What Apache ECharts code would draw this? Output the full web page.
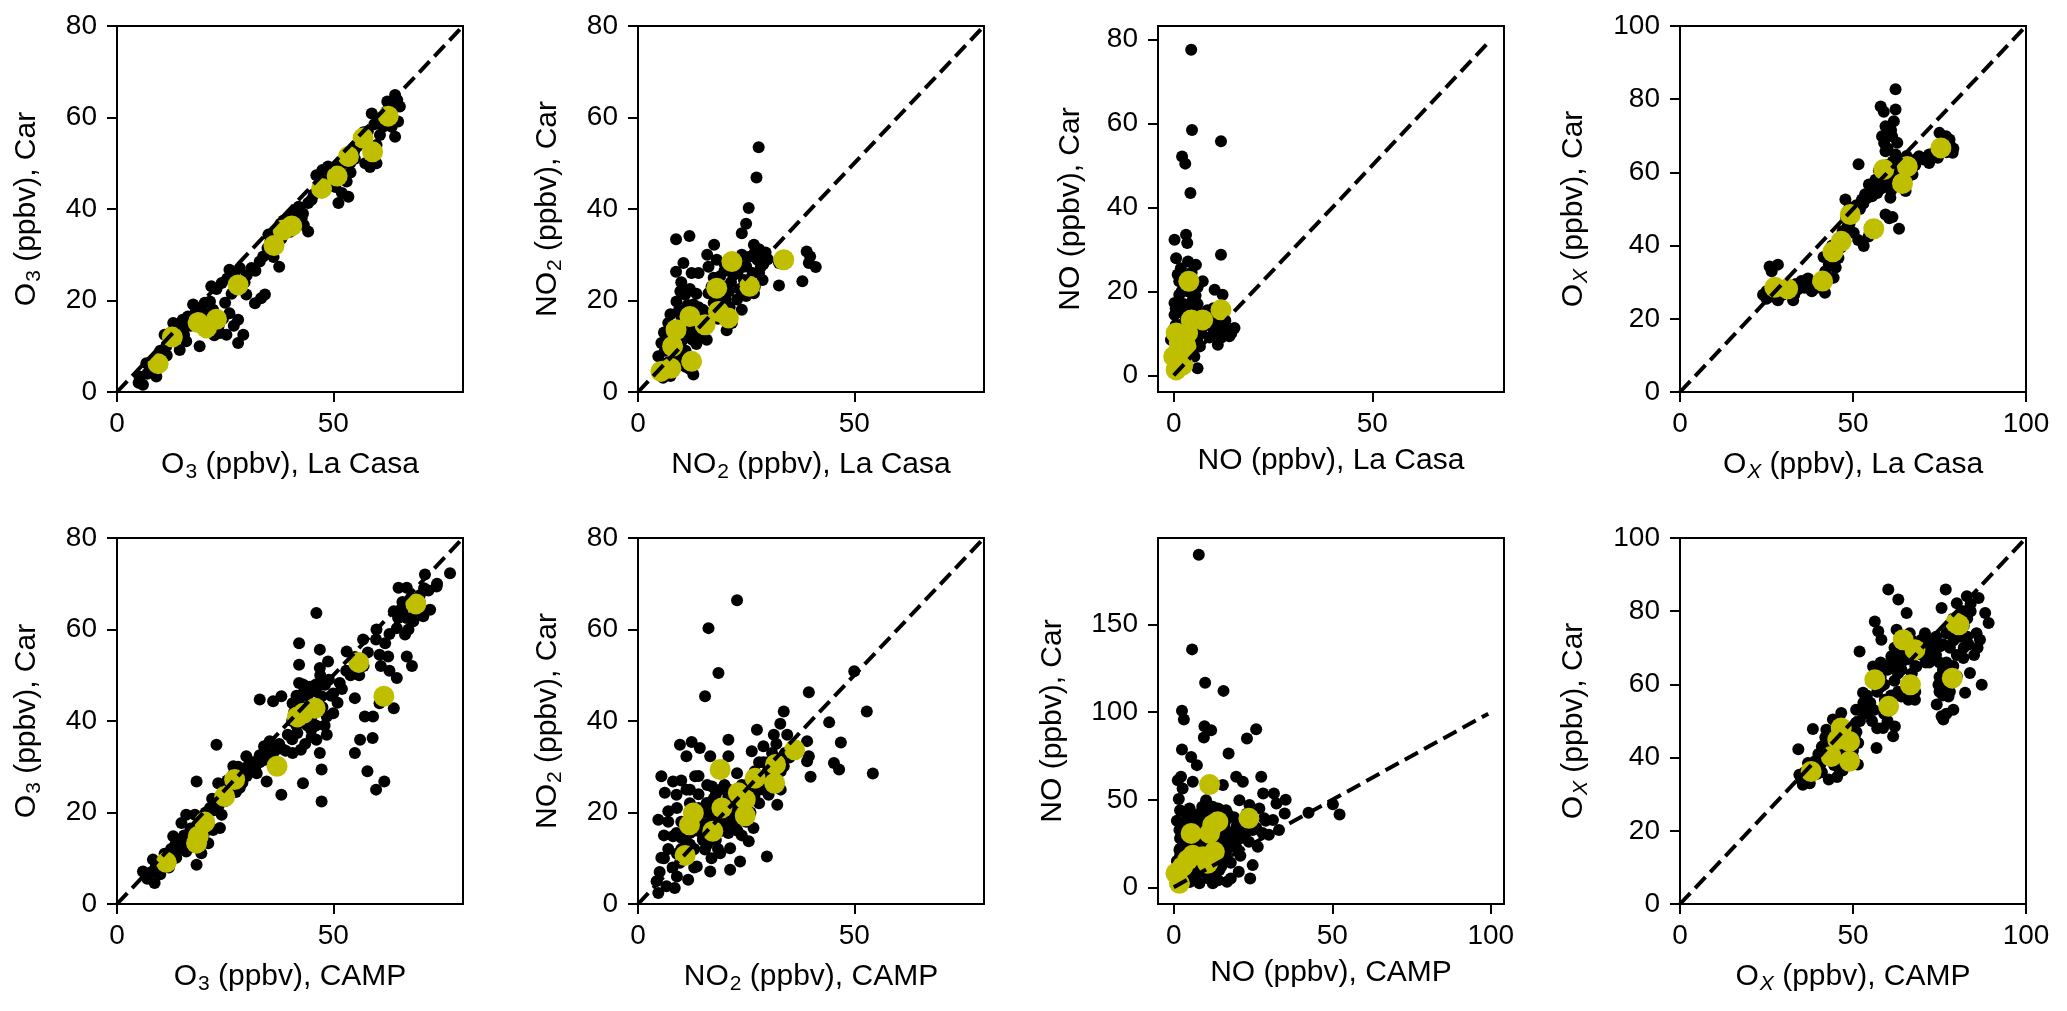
<!DOCTYPE html>
<html>
<head>
<meta charset="utf-8">
<script src="https://cdn.jsdelivr.net/npm/echarts@6/dist/echarts.min.js"></script>
<style>
html, body { margin: 0; padding: 0; background: #fff; }
#chart { width: 2067px; height: 1011px; }
</style>
</head>
<body>
<div id="chart"></div>
<script>
// --- data: [site value, car value] ---
var o3CasaAll = [[5,2],[5.2,3.4],[6,1.6],[6.8,6.3],[7.6,4.9],[9.1,3.4],[8.5,5.5],[9.8,7.2],[10.6,8.5],[11.4,10],[12.2,11.1],[11,12.5],[13,15.1],[13.5,13],[14.9,14],[16,11.1],[14.5,9.2],[15.2,15.8],[16.4,16.5],[17.6,19.1],[18.2,17.5],[19.1,10],[19.5,18.5],[20.3,19.5],[21.5,19.8],[22.2,18],[21,13.2],[22.5,12.4],[23.8,12.9],[25.3,12.5],[26,17.2],[27,14.5],[28,15.8],[29.2,12.5],[28,10.7],[21.8,23.1],[23,22.5],[24.2,23.8],[25.5,24.8],[26,26.7],[27.2,25.4],[28.4,27.1],[29.5,24],[31.1,27.1],[29.9,21.3],[31.9,19.4],[34.2,21.3],[33.3,20.5],[33.8,29.6],[34.8,31.5],[35.5,33],[37.5,27.4],[36.2,29.5],[35,34.4],[36.5,35.2],[37.8,36.8],[38.5,37.5],[39.2,37.6],[40.7,38.7],[41.5,37.2],[42.7,38],[43.2,36.5],[44.2,35.1],[44.2,41.3],[45.5,43.2],[46.1,47.4],[47.2,46],[48,45],[48.8,49.3],[49.5,48],[50.5,44.8],[51.2,41.3],[52,43.5],[53.5,42.7],[53.1,46],[51.5,48.9],[52.5,50.2],[53.9,50],[54.8,52.5],[55.5,53.6],[56.2,54.4],[57,56.8],[57.4,50],[58.5,49.2],[60,50],[58.9,60.9],[59.5,58.5],[60.8,56.2],[61.5,58],[62.3,61.3],[63,62.3],[63.9,63.1],[64.3,64.9],[64.8,63.8],[65.4,62.4],[65,59.1],[64.3,55.8],[63.2,60.5],[62,59.2],
    [7,4],[8,6.5],[9,5],[10,9],[11.5,8],[12.5,13],[13.8,11.8],[15.5,12.5],[17,14.5],[18.5,15.5],[19.8,16],[20.5,17],[22,16.5],[23.5,14.5],[24.5,16],[25,19.5],[26.5,21.5],[27.5,22.5],[30,25.5],[32,26.5],[33,28.5],[35.5,30.5],[36.8,32],[37,34],[38,33.5],[39.5,36],[40,35],[41,39.5],[42,40.5],[43,39],[45,42],[46.5,44],[47.5,48.5],[49,46.5],[50,47.5],[51,49.5],[54,48],[55,51],[56,55.5],[57.5,54.5],[58,57],[60,54],[61,60],[62.5,63.5],[63.5,58],[64,62]];
var o3CasaMean = [[9.5,6.2],[12.8,12],[18.75,15.2],[20.7,14],[23,15.9],[28,23.4],[36.3,32],[38.4,35.4],[40.4,36.3],[47.3,44.5],[50.9,47.2],[53.5,51.5],[56.9,55.5],[59.1,52.5],[62.7,60.3]];

var no2CasaAll = [[5.8,3.1],[6.5,3.8],[7.5,3.5],[4.7,7.8],[5.4,10.7],[6.2,9],[6.8,12],[7,15.1],[7.8,13.5],[8.5,11],[9.5,9],[10.2,7.5],[11,5.5],[12.8,3.8],[12,5],[8.9,19.8],[9.5,18],[10,16.5],[10.5,15],[11.5,13],[12.5,11.5],[13.5,10.5],[14.7,12.9],[15.9,11.4],[14.5,14.5],[13.2,17],[12.8,19.1],[10.9,21.3],[8.8,26.3],[8.8,33.4],[11.9,34.1],[10.5,28.2],[12.4,26],[16.6,17.2],[16.3,21.6],[17.5,19.5],[16.3,27.4],[17.6,32.2],[18.2,28.9],[19,25.3],[19.8,23],[20.2,20.2],[21.7,15.1],[21.2,18.5],[22.9,20.2],[24,18],[23.5,22.5],[24.5,24.5],[25,21],[24,34.7],[25,36.8],[25.6,40.2],[27.4,46.9],[27.9,53.5],[26.8,32.2],[27.6,28.9],[28.4,27.4],[28.8,24.5],[26.8,21.6],[24.4,27.4],[25.5,29.5],[26.5,26],[27,30.5],[28,31.2],[32.6,23.3],[32.6,28.2],[38,24.2],[39.5,28.2],[39,30.7],[41.1,27.3],[39.8,29.6],[20,26.5],[21.5,24],[22.5,27],[15.2,16],[14,18.5],[11.5,16.5],[9.8,22],[13.5,21.5],[18.5,16],[20.5,13.5],
    [6,5],[7,6.5],[8,5],[9,7],[9,13],[10,11],[11,9],[11.5,19],[12,22.5],[13,14],[14,12],[15,18],[16,15],[17,23],[17.5,25],[18,18.5],[19,21],[20,28],[21,22],[22,25.5],[23,26],[23,29],[24,30],[25,27.5],[26,24],[27,23],[28,26],[29,28],[29.5,30.5],[30,29],[16,30],[14,26],[10,24],[7.5,17],[6,13]];
var no2CasaMean = [[5.3,4.5],[7.6,5.2],[8,10],[8.8,13.6],[12,16.5],[12.4,6.7],[15.5,14.7],[18.2,22.7],[18.6,17.6],[20.9,16.2],[21.7,28.5],[25.8,23.1],[33.7,28.9]];

var noCasaAll = [[0.2,32.3],[0.6,27.9],[2.1,52.1],[2.9,50.4],[4.4,77.5],[4.6,58.4],[11.9,55.7],[4.2,43.4],[3.1,33.5],[3.4,31.5],[3.6,27.1],[5.6,26.3],[7.3,22.4],[1.4,22.4],[0.2,17.2],[1.4,19.2],[4.8,18],[11.9,28.7],[10.3,20.4],[12.3,19.2],[13.6,11.3],[15.3,11.3],[11.1,7.3],[14,9.3],[9.8,11.3],[6,1.7],[6.6,6.9],[-0.7,8.5],[0.2,14.4],[2.3,14.8],[5.6,15.6],[0.6,5.3],[1.5,12],[2.5,17],[3.5,20],[4.5,24.5],[6,21],[2.8,9],[5,8.5],[6.5,12],[11,13],[12.5,15],[10.5,10],[12,9],[8.5,15.5],[3,3],[1,2.5],[0.5,16],[1.8,25.5],[7,13.8],[5.2,4.5],
    [0,10],[0.5,12],[1,7],[1.5,4],[2,11],[2.5,6],[3,14],[4,10],[4,16],[5,12],[5.5,19],[6,8],[7,10],[8,12],[9,14],[10,16],[2,20],[1,24],[3,22],[6,17],[13,13],[14.5,10],[12,11.5],[9,9],[10,13]];
var noCasaMean = [[0.6,1.3],[2.3,2.5],[0,4.5],[0.6,10.1],[1.4,7.7],[3.1,6.9],[3.5,10.1],[4.4,13.2],[7.3,13.2],[3.8,22.4],[11.9,15.6]];

var oxCasaAll = [[24,26.6],[25,25.5],[25.9,34.3],[26.5,33],[28.3,34.8],[27.5,29.5],[26.8,27.5],[28.3,25.1],[29.5,26.5],[30.5,27.8],[32.7,25.1],[33.5,29.5],[35.1,30.3],[36.5,29.8],[38.1,27.5],[39.5,28.5],[40.5,30.5],[41.9,27.1],[42.5,31.5],[44.4,31.2],[41.5,36.9],[43,37.5],[44,40],[45.8,36.6],[46.5,39.5],[47.5,42.5],[48.5,45.5],[47.8,52.6],[49,50.5],[50.2,43.5],[51.5,41.5],[53.1,39.9],[54.5,42.5],[55.5,43.5],[51.6,62.2],[52.6,52.6],[53.5,54],[54.6,56.7],[55.5,53.5],[57,54.4],[58,55.5],[59.4,48.5],[60.5,47.5],[63.3,44.6],[61.4,47.8],[58,78],[58.9,76.6],[62.3,82.7],[62.3,77.2],[61.8,74],[59.4,72.6],[58.4,69.9],[61.3,69.9],[62.8,68.1],[59.4,65.8],[62.3,64.9],[60.8,53.1],[59.5,57],[61,59.5],[60,62],[63,60],[62.5,56.5],[64,58.5],[65.2,54.9],[67.2,59.4],[68,62],[69.1,64.4],[70.5,63.5],[72,62.6],[73,65],[75,70.8],[78.8,65.4],[77.9,69],[76.9,69.9],[72,64.9],[76,66.5],[78,67.5],[74.5,64],[66,62],[65.5,64.5],[57.5,60.5],[56.5,58],
    [25,27.5],[27,26],[29,28],[31,27],[33,26.5],[34,28],[36,28.5],[37,31],[42,33],[43,35],[44.5,37],[45,34],[46,40.5],[47,44],[48,47.5],[49,46],[50,48.5],[51,51],[52,50],[53,51.5],[54,53],[56,55],[57,56],[58,58],[59,59.5],[60,56],[61,55],[62,58],[63,62],[64,61],[65,60],[66,59],[67,61],[68,63.5],[59,68],[60,70.5],[61,71.5],[60,66.5],[61.5,63],[71,64],[74,66],[75,65],[77,65.5],[76,68],[79,66.5]];
var oxCasaMean = [[27.4,28.6],[31.1,28.2],[41.2,30.3],[44.2,38.3],[46.6,41.2],[49.2,48.5],[56,44.6],[58.9,60.8],[64.3,57],[65.7,61.6],[75.4,66.7]];

var o3CampAll = [[6,7.1],[6.8,6],[8.7,4.6],[8.3,9.7],[9.5,7.5],[10.5,8.5],[11.5,10],[12,8],[13,14.8],[13.7,10.1],[14,12],[14.9,17.7],[15,13.5],[16,19.5],[16.5,14],[17,16.5],[18,19.5],[18.4,8.6],[19,17],[19.5,11.1],[20,15],[21,18.5],[21.1,13.3],[22.2,16.2],[22.5,20.5],[23.5,21.5],[23.8,16.6],[24.2,19.5],[25,22.5],[23.4,26.4],[23,34.8],[18.4,26.8],[26,25],[26.9,30.1],[27.5,24.5],[28.4,25.4],[28.5,28],[29.5,29.5],[29.9,32.3],[30.5,30.5],[31.5,31],[32.3,28.6],[33,32.5],[34,34.5],[35.3,35.6],[34.6,26.8],[33,44.7],[36.1,44.3],[38,45.4],[38,23.9],[36,32],[38,34],[39,33.5],[40.6,33],[40.5,36],[40.5,40],[41.5,39],[41.7,37.4],[42.1,52.3],[42.1,57],[42.1,48.3],[40.6,43.9],[41.5,45.5],[42.5,33.7],[42.5,41],[43,26.4],[43,48],[43.5,43],[43.5,35],[44,39],[44,45.5],[44.5,47.5],[44.9,38.1],[45,36.5],[45.5,46.5],[46.1,63.6],[46.9,55.6],[48.8,53],[46.9,51.6],[48.1,47.9],[47.3,45.4],[46.5,44],[47.5,43],[48.5,41],[48.5,37],[49.5,45.5],[46.1,35.9],[46.9,33],[47.3,29.4],[47.3,22.4],[50,41.7],[51.5,48.3],[52,47],[53.1,55.2],[54,50],[55,45],[56.9,57.8],[57,52],[57.3,41],[56.2,35.9],[55,33],[57.9,29],[58,55],[59.1,36.3],[59.9,25],[61.8,26.8],[59.9,57.8],[60.7,54.5],[62.7,54.1],[62,57],[63,51],[64.7,60.3],[66.6,58.9],[67,54.1],[68.2,52],[64.7,49.4],[64,42.8],[60.7,43.9],[59.2,41],[65,62.5],[66,64],[65.1,69.1],[67,69.1],[68,67],[70,67.5],[71.2,72],[72,68.5],[72.4,64.3],[73.9,69.4],[77,72.3],[70.8,62.9],[68.5,61.8],[67.4,60],
    [7,5.5],[8,7],[9,8.5],[10,6.5],[11,11],[12.5,12],[13.5,13],[15.5,15],[16,11.5],[17.5,12.5],[18.5,15],[19.5,13.5],[20.5,20],[21.5,21],[22,23],[24,22.5],[25.5,27],[26.5,26],[27,28.5],[28,30],[29,26.5],[30,28],[31,29.5],[32,30],[33,31],[34,31.5],[35,33],[36.5,33.5],[37.5,35],[39.5,37],[41,42],[42,44],[43,46],[44,43],[45,41],[46,39],[46,48],[47,50],[48,39],[49,49],[50,46],[51,44],[53,51],[55,54],[56,50],[60,60],[61,52],[63,59],[64,64],[66,66],[67,62.5],[69,64],[70,66],[71,69],[74,70]];
var o3CampMean = [[11.4,9.1],[18.4,13.3],[18.8,14.8],[20.3,17.9],[24.9,23.5],[27.2,27.2],[37,30.1],[41.7,40.9],[43.1,41.7],[45.8,42.8],[55.9,52.8],[61.7,45.4],[69.1,65.6]];

var no2CampAll = [[4.3,5],[4.7,2.4],[6.6,3.9],[8.5,3.5],[11.6,5.3],[5.4,10.1],[4.7,18.4],[6.2,24.3],[5.4,27.9],[8.1,26.8],[9.7,34.8],[12.4,35.4],[11.2,32.3],[14.3,34.1],[13.2,27.9],[8.9,23.9],[11.2,25],[8.1,14.8],[9.7,9],[13.6,8.2],[16.7,7.1],[15.5,45.4],[16.3,60.3],[18.6,50.5],[22.9,66.4],[17.1,25.7],[16.7,32.3],[20.9,35.9],[20.9,32.3],[21.3,7.5],[23.6,9.3],[21.3,12.2],[25.6,13.7],[26.7,16.6],[29.8,10.4],[32.2,21.7],[30.2,23.9],[27.5,25.7],[26.3,33.4],[27.5,38.1],[31.4,37],[32.9,39.4],[33.7,42.1],[34.5,37],[33.7,30.1],[39.5,46.3],[39.1,35.6],[39.5,32.3],[39.1,31.2],[39.9,27.8],[44.2,39.7],[46.9,35.3],[45.3,30.8],[46.5,29.4],[50,50.9],[52.9,42.1],[54.3,28.5],[19,25],[20.9,23.5],[15.9,22.1],[14.7,15.5],[19,11.1],[20.9,15.5],[23.6,18.4],[22.1,20.6],[12.8,11.9],[8.9,15.5],[7,20.3],[15.5,11.9],[22.9,28.6],[29,34.5],[10,12],[11,14],[12,13],[13,16],[14,18],[15,20],[16,17],[17,19],[18,21],[19,18],[20,22],[21,25],[22,19],[23,21],[24,26],[25,23],[26,27],[27,29],[28,31],[29,28],[30,31],[31,33],[32,35],[10,18],[9,21],[12,22],[14,24],[16,13],[18,14],[20,17],[22,24],[24,15],[26,20],[28,22],[17,10],[13,8],[11,10],[7,12],[6,15],[8,8],[30,27],[33,25],[35,32],
    [9,11],[10,14.5],[11,17],[12,15.5],[13,19],[13,12],[14,21],[15,14],[15.5,17.5],[16,21],[17,15],[17.5,23],[18,18],[18.5,12],[19.5,16],[20,19.5],[21,21.5],[21.5,17.5],[22,23],[23,25],[23,16],[24,20],[25,18],[25,25.5],[26,22.5],[27,24],[28,27],[29,25],[29,31],[30,29],[31,26],[32,31],[33,29],[34,33],[16,26],[18,24],[20,26],[14,28],[12,25],[10,27],[7,18],[6,10],[9,6],[5,7]];
var no2CampMean = [[10.9,10.6],[11.9,17.3],[12.8,19.9],[17.3,15.9],[19,29.4],[19.4,21],[23.2,24.3],[24.8,22.8],[24.8,19.3],[27.1,27.5],[31.6,26.4],[31.8,30.5],[36.2,33.7]];

var noCampAll = [[7.9,189.9],[5.8,135.9],[9.9,116.9],[15.7,112.2],[2.6,100.8],[3.2,95.8],[9.7,92],[11.8,89.7],[9.5,85.6],[26,90.3],[23.1,85],[17.3,76.4],[2.6,78.7],[5.5,74.5],[7.3,69.8],[2.3,63.1],[1.3,61.2],[6,60.3],[19.7,63.1],[21.8,60.3],[27.6,63.1],[15.5,58.4],[2.8,56.5],[1.6,50.4],[28.2,53.6],[31.6,53.6],[35.3,50],[32.4,47.9],[35,42.2],[33.2,32.7],[31.3,38.4],[28.5,39.4],[42.5,42.6],[50.2,47.5],[52.3,41.6],[20.7,49.8],[23.9,47],[10.2,49.8],[12.3,46],[16.5,44.1],[3.9,42.2],[1.8,32.7],[1.8,21.3],[4.9,6.1],[8.1,2.3],[12.3,2.3],[16.8,3.2],[20.5,8.9],[24.1,5.1],[24.9,12.7],[23.7,26],[16.5,17.5],[18.6,28.9],[19.7,33.7],[16.5,38.4],[20.7,30.8],[14.9,25.1],[7,9.9],[10.2,8],[14.4,9.9],[8.6,23.2],[13.4,30.8],[8.1,38.4],[7,28.9],[16,30.8],[24.9,32.7],[21.8,38.4],[26.5,23.2],[3.9,17.5],[6,11.8],[1,5],[2,8],[3,12],[1,15],[2,18],[3,25],[2,28],[4,30],[5,35],[6,40],[1,38],[5,22],[6,27],[8,18],[9,25],[10,30],[11,20],[12,15],[13,25],[14,35],[15,40],[17,22],[18,14],[19,24],[20,36],[22,30],[11,42],[9,46],[7,5],[5,3],[3,2],[9,12],[13,6],[15,12],[18,5],[21,18],[23,42],[25,36],[27,45],[29,38],[30,30],
    [1,10],[2,13],[2,22],[3,30],[4,27],[4,37],[5,45],[6,33],[7,24],[7,15],[8,30],[8,42],[9,34],[10,20],[10,38],[11,26],[12,33],[12,40],[13,18],[14,22],[14,45],[15,30],[16,27],[16,35],[17,42],[18,31],[19,40],[20,22],[21,28],[22,36],[23,32],[24,40],[26,34],[28,31],[11,5],[14,4],[6,7],[4,20],[3,35],[2,44]];
var noCampMean = [[1.8,2.3],[0.7,8],[2.8,11.8],[4.4,15.6],[6,18.4],[9.2,17.5],[10.7,13.7],[12.8,20.3],[11.3,30.8],[12.3,35.6],[13.9,37.5],[5.5,30.8],[11.3,58.7],[23.7,39.4]];

var oxCampAll = [[35.5,32.6],[34.5,35.3],[34.2,42.3],[38.4,47.8],[39.8,38.5],[42.3,47.6],[44.2,50.4],[46.6,52.2],[45.4,34.7],[51.4,38.1],[50.9,49.5],[50.9,53.1],[52.9,57.7],[51.9,69],[54.8,54],[56.8,42.6],[58.7,48.1],[61.6,45.8],[62.1,48.5],[55.8,64.9],[56.3,77.2],[57.3,74.5],[58.7,64],[60.2,85.9],[63.1,83.2],[65.5,79.5],[62.6,74.9],[61.1,67.7],[62.6,64.9],[64,56.7],[66,55.8],[67.9,55.8],[68.3,64.9],[69.8,72.2],[71.8,67.7],[73.7,66.8],[75.2,70.4],[74.2,54.5],[75.6,51.3],[76.1,50.4],[79,53.1],[74.7,59.9],[77.6,56.7],[75.6,80.9],[76.8,85.9],[80,82.2],[82.9,84.1],[86.3,83.6],[88.2,79.5],[89.2,76.8],[85.7,74],[86.7,72.2],[83.4,70.9],[81.9,67.2],[83.8,63.1],[87.2,59.9],[82.4,57.7],[80,62.2],[58.2,72.2],[64,70.4],[66.4,74],[70.8,74],[72.7,71.3],[58.2,59.5],[59.2,55.8],[36.5,34],[37.5,33],[38.5,37],[39.5,35.5],[40.5,38],[41.5,41],[42.5,43.5],[43.5,45.5],[44.5,38],[45.5,42],[46.5,45.5],[47.5,47],[48.5,41],[49.5,43],[50.5,46],[51.5,44],[41,36],[43,34],[47,36.5],[50,40],[53,55],[54,52],[55.5,50],[57,48],[59,52],[60,50],[61,57],[62,61],[63,63],[64,66],[65,68],[66,70],[67,63],[68,65],[69,69],[70,70],[71,66],[72,69],[73,72],[74,68],[75,62],[76,64],[77,66],[78,70],[79,72],[80,74],[81,78],[82,76],[84,80],[83,73],[85,68],[86,70],[76,57],[78,58],[79,65],[68,58],[66,61],[63,58],[58,66],[56,62],[62,70],
    [35,34],[36,36],[37,38.5],[38,35],[39,39],[40,41],[41,43],[42,45.5],[43,41],[44,43],[45,47],[46,37],[47,40],[48,44],[49,48],[50,42],[51,47],[52,50],[53,52],[54,57],[55,55],[56,53],[57,58],[58,62],[59,60],[60,64],[61,66],[62,67],[63,69],[64,64],[65,71],[66,67],[67,72],[68,70],[69,71],[70,68],[71,72],[72,66],[73,70],[74,73],[75,66],[76,71],[77,74],[78,75],[79,78],[80,76],[81,73],[82,80],[83,78],[84,82],[76,60],[77,52],[75,58],[80,68],[82,70]];
var oxCampMean = [[37.9,36.2],[43.7,40.3],[45.6,44.9],[46.6,48.1],[49,44.4],[49,39],[56.3,61.3],[60.3,54],[64.5,72.2],[66.6,59.9],[67.9,69.5],[78.7,61.7],[79.7,76.8],[80.6,76.3]];

// tick labels
var ticks80 = [0, 20, 40, 60, 80];
var ticks100 = [0, 20, 40, 60, 80, 100];
var ticksX50 = [0, 50];
var ticksX100 = [0, 50, 100];
var ticksNoCamp = [0, 50, 100, 150];

// axis titles
var xNames = [
    '{n|O}{s|3}{n| (ppbv), La Casa}', '{n|NO}{s|2}{n| (ppbv), La Casa}', '{n|NO (ppbv), La Casa}', '{n|O}{i|X}{n| (ppbv), La Casa}',
    '{n|O}{s|3}{n| (ppbv), CAMP}', '{n|NO}{s|2}{n| (ppbv), CAMP}', '{n|NO (ppbv), CAMP}', '{n|O}{i|X}{n| (ppbv), CAMP}'
];
var yNames = [
    '{n|O}{s|3}{n| (ppbv), Car}', '{n|NO}{s|2}{n| (ppbv), Car}', '{n|NO (ppbv), Car}', '{n|O}{i|X}{n| (ppbv), Car}'
];

var FONT = '"Liberation Sans", Arial, sans-serif';
var rich = {
    n: { fontSize: 30, fontFamily: FONT, color: '#000' },
    s: { fontSize: 21, fontFamily: FONT, color: '#000', padding: [16, 0, 0, 1] },
    i: { fontSize: 21, fontFamily: FONT, color: '#000', fontStyle: 'italic', padding: [16, 0, 0, 1] }
};

var panels = [
    { all: o3CasaAll, mean: o3CasaMean, x: [0, 80], y: [0, 80], xt: ticksX50, yt: ticks80, end: 80, gap: 72 },
    { all: no2CasaAll, mean: no2CasaMean, x: [0, 80], y: [0, 80], xt: ticksX50, yt: ticks80, end: 80, gap: 72 },
    { all: noCasaAll, mean: noCasaMean, x: [-3.96, 83.16], y: [-3.96, 83.16], xt: ticksX50, yt: ticks80, end: 79.2, gap: 72 },
    { all: oxCasaAll, mean: oxCasaMean, x: [0, 100], y: [0, 100], xt: ticksX100, yt: ticks100, end: 100, gap: 88 },
    { all: o3CampAll, mean: o3CampMean, x: [0, 80], y: [0, 80], xt: ticksX50, yt: ticks80, end: 80, gap: 72 },
    { all: no2CampAll, mean: no2CampMean, x: [0, 80], y: [0, 80], xt: ticksX50, yt: ticks80, end: 80, gap: 72 },
    { all: noCampAll, mean: noCampMean, x: [-4.96, 104.16], y: [-9.5, 199.5], xt: ticksX100, yt: ticksNoCamp, end: 99.2, gap: 90 },
    { all: oxCampAll, mean: oxCampMean, x: [0, 100], y: [0, 100], xt: ticksX100, yt: ticks100, end: 100, gap: 88 }
];

var lefts = [117, 638, 1158, 1680];
var tops = [26, 538];

var grids = [], xAxes = [], yAxes = [], series = [];
panels.forEach(function(p, k) {
    grids.push({
        left: lefts[k % 4], top: tops[Math.floor(k / 4)], width: 346, height: 366,
        show: true, borderColor: '#000', borderWidth: 2, backgroundColor: 'transparent'
    });
    var tick = { show: true, length: 10, lineStyle: { color: '#000', width: 2 } };
    xAxes.push({
        gridIndex: k, type: 'value', min: p.x[0], max: p.x[1],
        name: xNames[k], nameLocation: 'middle', nameGap: 54,
        nameTextStyle: { rich: rich },
        axisLine: { show: false, onZero: false },
        axisTick: Object.assign({ customValues: p.xt }, tick),
        axisLabel: { customValues: p.xt, fontSize: 28, fontFamily: FONT, color: '#000', margin: 18 },
        splitLine: { show: false }
    });
    yAxes.push({
        gridIndex: k, type: 'value', min: p.y[0], max: p.y[1],
        name: yNames[k % 4], nameLocation: 'middle', nameGap: p.gap,
        nameTextStyle: { rich: rich },
        axisLine: { show: false, onZero: false },
        axisTick: Object.assign({ customValues: p.yt }, tick),
        axisLabel: { customValues: p.yt, fontSize: 28, fontFamily: FONT, color: '#000', margin: 20 },
        splitLine: { show: false }
    });
    series.push({
        type: 'scatter', xAxisIndex: k, yAxisIndex: k, data: p.all,
        symbolSize: 12, itemStyle: { color: '#000', opacity: 1 }, z: 2, silent: true
    });
    series.push({
        type: 'scatter', xAxisIndex: k, yAxisIndex: k, data: p.mean,
        symbolSize: 21, itemStyle: { color: '#bfbf00', opacity: 1 }, z: 3, silent: true
    });
    series.push({
        type: 'line', xAxisIndex: k, yAxisIndex: k, data: [[0, 0], [p.end, p.end]],
        symbol: 'none', lineStyle: { color: '#000', width: 4, type: [15, 7] }, z: 4, silent: true
    });
});

var chart = echarts.init(document.getElementById('chart'));
chart.setOption({
    animation: false,
    backgroundColor: '#fff',
    grid: grids,
    xAxis: xAxes,
    yAxis: yAxes,
    series: series
});
</script>
</body>
</html>
